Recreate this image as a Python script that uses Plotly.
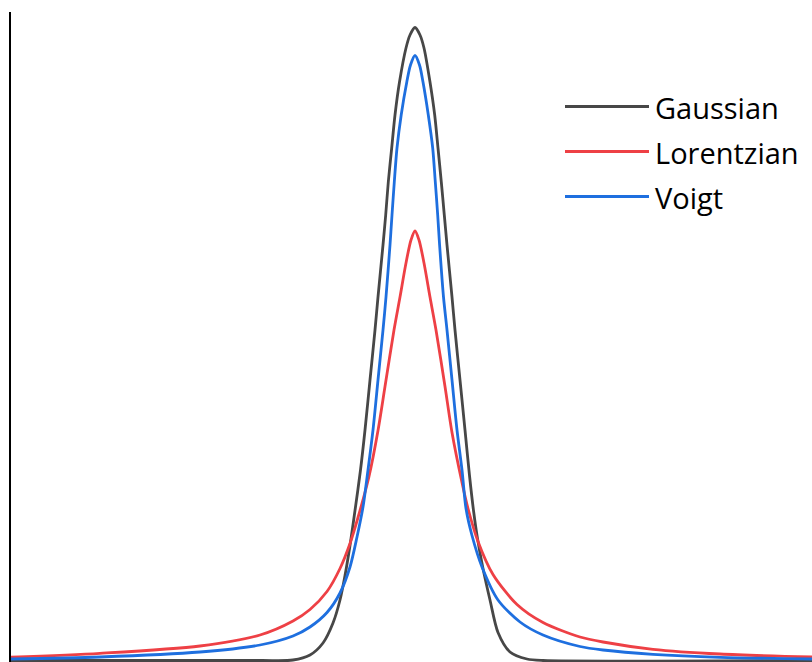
import plotly.graph_objects as go

# Series names and colours
names = ["Gaussian", "Lorentzian", "Voigt"]
colors = ["#474747", "#EE4045", "#1E6FDF"]

# Gaussian profile (x in arbitrary units, intensity in arbitrary units)
gauss_x = [-40.5, -15.5, -12.2, -10.5, -9.2, -8.2, -7.5, -7.0, -6.5, -6.0,
           -5.45, -5.0, -4.5, -4.0, -3.7, -3.2, -2.93, -2.67, -2.33, -2.0,
           -1.55, -0.9, -0.5, 0, 0.5, 0.9, 1.5, 1.97, 2.3, 2.63,
           2.93, 3.2, 3.7, 4.0, 4.5, 5.0, 5.45, 5.85, 6.25, 6.8,
           7.5, 8.3, 9.5, 11.2, 12.8, 39.7]
gauss_y = [0, 0, 0.5, 5.5, 17.5, 37.5, 60.5, 85, 115, 150,
           190.5, 230.5, 280.5, 330.5, 363.5, 415.5, 445.5, 478.5, 512.5, 545.5,
           578.5, 612.5, 625.5, 633, 625.5, 612.5, 578.5, 545.5, 512.5, 478.5,
           445.5, 415.5, 363.5, 330.5, 280.5, 230.5, 185, 150, 122, 92,
           60.5, 28, 8.5, 1.5, 0, 0]

# Lorentzian profile
lor_x = [-40.5, -31.5, -21.5, -15.5, -12.2, -10.5, -8.8, -7.5, -6.5, -5.7,
         -4.6, -3.7, -3.0, -2.1, -1.5, -0.9, -0.4, 0, 0.4, 0.9,
         1.5, 2.1, 3.0, 3.7, 4.7, 5.3, 6.3, 7.8, 10.2, 12.8,
         16.5, 18.8, 23.8, 30.5, 39.7]
lor_y = [3.2, 7.2, 14.5, 25.5, 39.5, 51, 69, 92, 117, 143,
         184, 230, 274, 330.5, 363.5, 397.5, 420.5, 429.5, 420.5, 397.5,
         363.5, 330.5, 274, 228, 178, 152, 119, 86, 56, 38,
         23.5, 18.5, 11.2, 6.5, 3.5]

# Voigt profile
voigt_x = [-40.5, -31.5, -21.5, -15.5, -12.2, -10.5, -8.8, -7.5, -6.5, -5.8,
           -5.2, -4.7, -4.2, -3.7, -3.2, -2.9, -2.5, -2.3, -2.07, -1.8,
           -1.38, -0.82, -0.45, 0, 0.45, 0.8, 1.33, 1.77, 2.03, 2.27,
           2.46, 2.85, 3.2, 3.7, 4.2, 4.7, 5.1, 5.7, 6.7, 8.3,
           10.5, 12.8, 16.5, 18.8, 23.8, 30.5, 39.7]
voigt_y = [1.5, 3.5, 8.5, 15.5, 24.5, 33.5, 48, 67.5, 93.5, 123.5,
           153.5, 190.5, 230.5, 280.5, 330.5, 363.5, 415.5, 445.5, 478.5, 512.5,
           545.5, 578.5, 595.5, 605, 595.5, 578.5, 545.5, 512.5, 478.5, 445.5,
           415.5, 363.5, 330.5, 280.5, 230.5, 190.5, 152, 125, 93.5, 60.5,
           38.5, 25.5, 14, 10.5, 6.2, 3.2, 1.5]

series = [(gauss_x, gauss_y), (lor_x, lor_y), (voigt_x, voigt_y)]

W, H = 812, 662
ML, MR, MT, MB = 11, 0, 12, 0

fig = go.Figure()
for (xs, ys), name, col in zip(series, names, colors):
    fig.add_trace(go.Scatter(
        x=xs, y=ys, mode="lines", name=name,
        line=dict(color=col, width=2.8, shape="spline", smoothing=0.8),
        showlegend=False,
    ))

# Manual legend (long line samples like the reference)
def px_to_paper_x(px):
    return (px - ML) / (W - ML - MR)

def px_to_paper_y(py):
    return 1 - (py - MT) / (H - MT - MB)

legend_rows = [106.5, 151.5, 196.5]
for name, col, py in zip(names, colors, legend_rows):
    fig.add_shape(type="line", xref="paper", yref="paper",
                  x0=px_to_paper_x(565), x1=px_to_paper_x(649),
                  y0=px_to_paper_y(py), y1=px_to_paper_y(py),
                  line=dict(color=col, width=2.8))
    fig.add_annotation(xref="paper", yref="paper",
                       x=px_to_paper_x(653), y=px_to_paper_y(py + 1),
                       xanchor="left", yanchor="middle",
                       text=name, showarrow=False,
                       font=dict(family="Open Sans", size=29, color="#000000"))

fig.update_layout(
    width=W, height=H,
    margin=dict(l=ML, r=MR, t=MT, b=MB, pad=0),
    paper_bgcolor="white", plot_bgcolor="white",
    showlegend=False,
)
fig.update_xaxes(range=[-40.4, 39.7], showgrid=False, zeroline=False,
                 showticklabels=False, ticks="", showline=False)
fig.update_yaxes(range=[-1.5, 648.5], showgrid=False, zeroline=False,
                 showticklabels=False, ticks="", showline=True,
                 linecolor="black", linewidth=2.2)

fig.write_html("out.html")
